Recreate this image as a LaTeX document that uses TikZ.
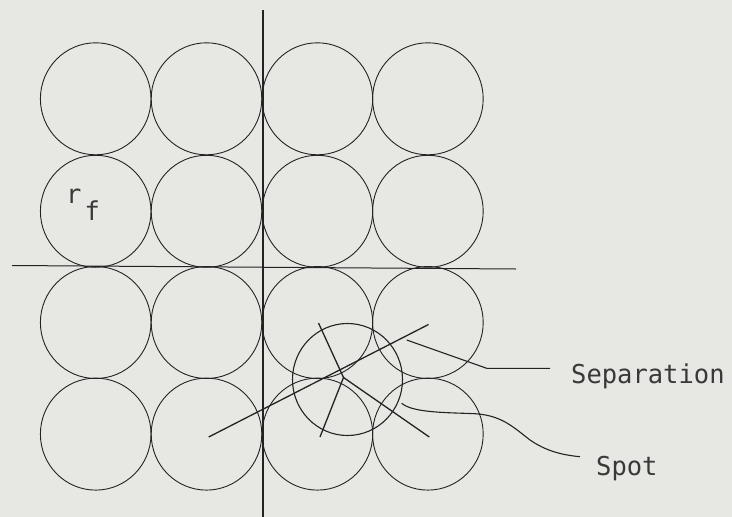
\documentclass[tikz,border=0pt]{standalone}
\usepackage{fontspec}
\newfontfamily\tw[FakeStretch=0.98]{DejaVu Sans Mono}
\definecolor{bg}{RGB}{231,231,227}
\definecolor{ink}{RGB}{35,35,35}
\begin{document}
\begin{tikzpicture}[x=1pt,y=-1pt,
  fibre/.style={draw=ink, line width=0.9pt},
  axis/.style={draw=ink, line width=1.2pt},
  sepline/.style={draw=ink, line width=1.3pt},
  leader/.style={draw=ink, line width=1.1pt},
  lbl/.style={font=\tw\fontsize{26}{26}\selectfont, text=ink!90, inner sep=0pt, anchor=base west}]
\fill[bg] (0,0) rectangle (732,517);
\useasboundingbox (0,0) rectangle (732,517);
% fibre centres
\foreach \c/\x in {1/95.7,2/206.5,3/317.4,4/427.9}
  \foreach \r/\y in {1/98.8,2/211.3,3/322.5,4/434.1}
    \coordinate (f\r\c) at (\x,\y);
\foreach \c in {1,2,3,4}
  \foreach \r in {1,2,3,4}
    \draw[fibre] (f\r\c) ellipse [x radius=55.3, y radius=56];
% axes
\coordinate (vt) at (263,10);
\coordinate (vb) at (263,517);
\coordinate (hl) at (12,265.5);
\coordinate (hr) at (516,269);
\draw[axis] (vt) -- (vb);
\draw[axis, line width=1pt] (hl) -- (hr);
% spot
\coordinate (spot) at (347.5,379.5);
\draw[sepline, line width=1.1pt] (spot) ellipse [x radius=55, y radius=56];
% separation lines
\coordinate (sc) at (343.5,377.5);
\coordinate (e1) at (318.5,323);
\coordinate (e2) at (320,437);
\coordinate (e3) at (429.3,437);
\coordinate (l1) at (208.7,437);
\coordinate (l2) at (428.5,324.5);
\draw[sepline] (e1) -- (sc) -- (e2);
\draw[sepline] (sc) -- (e3);
\draw[sepline] (l1) -- (l2);
% labels
\node[lbl] (seplbl) at (571,383.3) {Separation};
\node[lbl] (spotlbl) at (596,475) {Spot};
\node[lbl] (rf) at (66,203) {r\kern3pt\raisebox{-17pt}{f}};
% leaders
\coordinate (sa) at (406.7,340);
\coordinate (sk) at (486.7,368.3);
\coordinate (se) at (550,368.3);
\draw[leader] (sa) -- (sk) -- (se);
\coordinate (sb) at (401.7,403.3);
\coordinate (sm) at (470,413.5);
\coordinate (sn) at (530,440);
\coordinate (sf) at (580,456.7);
\draw[leader] (sb) .. controls (412,412) and (440,412.5) .. (sm)
  .. controls (500,414) and (512,426) .. (sn)
  .. controls (546,451) and (562,455) .. (sf);
\end{tikzpicture}
\end{document}
